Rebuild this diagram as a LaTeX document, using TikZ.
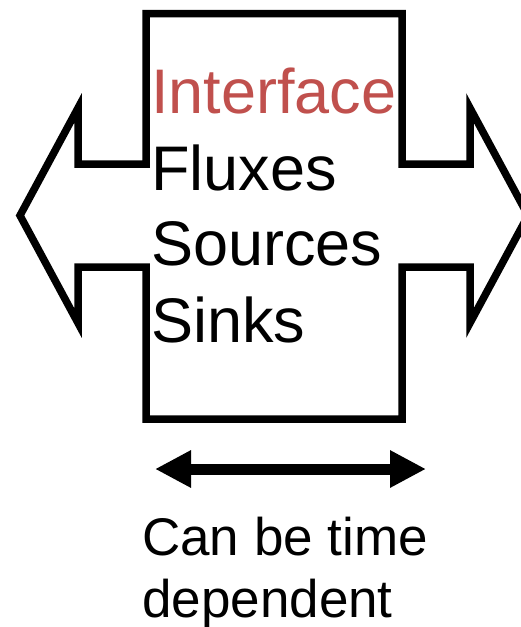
\documentclass[tikz,border=0pt]{standalone}
\usepackage{fontspec}
\setmainfont{Liberation Sans}
\usetikzlibrary{arrows.meta}
\definecolor{ifred}{HTML}{C0504D}
\tikzset{
  outline/.style={line width=7.5pt, miter limit=10, line join=miter, draw=black},
  bigtxt/.style={anchor=base west, inner sep=0pt, font=\fontsize{63pt}{77pt}\selectfont},
  captxt/.style={anchor=base west, inner sep=0pt, font=\fontsize{53pt}{63pt}\selectfont},
  span/.style={line width=11pt, {Triangle[length=36pt,width=35pt]}-{Triangle[length=36pt,width=35pt]}}
}
\begin{document}
\begin{tikzpicture}[x=1pt,y=-1pt]
\useasboundingbox (0,0) rectangle (521,627);
\begin{scope}
\clip (0,0) rectangle (521,627);
\draw[outline] (146,13.5) -- (402,13.5) -- (402,164) -- (470,164) -- (470,108)
  -- (528,215.5) -- (470,323) -- (470,267) -- (402,267) -- (402,419)
  -- (146,419) -- (146,267) -- (78,267) -- (78,323) -- (20,215.5)
  -- (78,108) -- (78,164) -- (146,164) -- cycle;
\end{scope}
\node[bigtxt, text=ifred] (t1) at (151,113) {Interface};
\node[bigtxt] (t2) at (151,190) {Fluxes};
\node[bigtxt] (t3) at (151,265) {Sources};
\node[bigtxt] (t4) at (151,342) {Sinks};
\coordinate (al) at (155,469);
\coordinate (ar) at (426,469);
\draw[span] (al) -- (ar);
\node[captxt] (c1) at (142,555) {Can be time};
\node[captxt] (c2) at (142,617) {dependent};
\end{tikzpicture}
\end{document}
